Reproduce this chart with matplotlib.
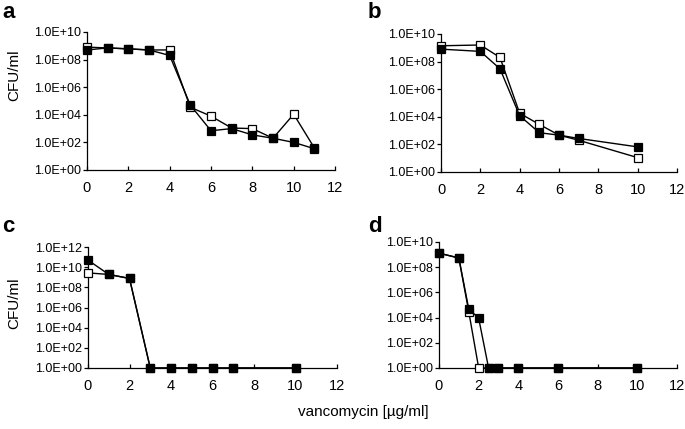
import numpy as np
import matplotlib
matplotlib.use('Agg')
import matplotlib.pyplot as plt
from matplotlib.ticker import FixedLocator, FuncFormatter

plt.rcParams['font.family'] = ['Liberation Sans', 'DejaVu Sans']

# panel a
a_x = [0, 1, 2, 3, 4, 5, 6, 7, 8, 9, 10, 11]
a_open = [8e8, 7e8, 6e8, 5e8, 5e8, 3.5e4, 8e3, 1.1e3, 1e3, 2e2, 1.1e4, 40]
a_fill = [5e8, 7e8, 6e8, 5e8, 2e8, 5e4, 7e2, 1e3, 3.5e2, 2e2, 1e2, 35]

# panel b
b_x = [0, 2, 3, 4, 5, 6, 7, 10]
b_open = [1.4e9, 1.6e9, 2e8, 1.8e4, 2.8e3, 4.7e2, 2e2, 11]
b_fill = [8e8, 5.5e8, 3e7, 1.2e4, 7e2, 4.7e2, 2.7e2, 66]

# panel c
c_x = [0, 1, 2, 3, 4, 5, 6, 7, 10]
c_open = [2.7e9, 1.9e9, 7.6e8, 1, 1, 1, 1, 1, 1]
c_fill = [5e10, 1.9e9, 7.6e8, 1, 1, 1, 1, 1, 1]

# panel d
d_x = [0, 1, 1.5, 2, 2.5, 3, 4, 6, 10]
d_open = [1.3e9, 5.4e8, 3e4, 1, 1, 1, 1, 1, 1]
d_fill = [1.3e9, 5.4e8, 4.8e4, 9e3, 1, 1, 1, 1, 1]

x_ticks = [0, 2, 4, 6, 8, 10, 12]


def sci_fmt(v, pos):
    e = int(round(np.log10(v)))
    return '1.0E%s%02d' % ('+' if e >= 0 else '-', abs(e))


def panel(rect, x, y_open, y_fill, ymax):
    ax = fig.add_axes(rect)
    # open squares first, filled drawn on top
    ax.plot(x, y_open, '-s', color='black', mfc='white', mec='black',
            ms=5.2, lw=1, mew=0.9, clip_on=False, zorder=3)
    ax.plot(x, y_fill, '-s', color='black', mfc='black', mec='black',
            ms=5.2, lw=1, mew=0.9, clip_on=False, zorder=4)
    ax.set_yscale('log')
    ax.set_ylim(1, ymax)
    ax.set_xlim(0, 12)
    ax.yaxis.set_major_locator(FixedLocator([10.0 ** k for k in range(0, int(np.log10(ymax)) + 1, 2)]))
    ax.yaxis.set_minor_locator(FixedLocator([]))
    ax.yaxis.set_major_formatter(FuncFormatter(sci_fmt))
    ax.set_xticks(x_ticks)
    for s in ['top', 'right']:
        ax.spines[s].set_visible(False)
    for s in ['left', 'bottom']:
        ax.spines[s].set_linewidth(0.9)
    ax.tick_params(axis='y', direction='out', length=3, width=0.9, labelsize=9, pad=1.5)
    ax.tick_params(axis='x', direction='in', length=3, width=0.9, labelsize=10.5, pad=8)
    return ax


fig = plt.figure(figsize=(6.85, 4.29), dpi=100)

panel([87 / 685, 1 - 170 / 429, 248 / 685, 138 / 429], a_x, a_open, a_fill, 1e10)
panel([441 / 685, 1 - 172 / 429, 236 / 685, 138 / 429], b_x, b_open, b_fill, 1e10)
panel([88 / 685, 1 - 368 / 429, 249 / 685, 121 / 429], c_x, c_open, c_fill, 1e12)
panel([439 / 685, 1 - 368 / 429, 238 / 685, 126 / 429], d_x, d_open, d_fill, 1e10)

for lx, ly, t in [(2, 12, 'a'), (368, 12, 'b'), (2, 226, 'c'), (368, 226, 'd')]:
    fig.text(lx / 685, 1 - ly / 429, t, fontsize=16, fontweight='bold', va='center', ha='left')

fig.text(14 / 685, 1 - 75 / 429, 'CFU/ml', rotation=90, fontsize=11, va='center', ha='center')
fig.text(14 / 685, 1 - 303 / 429, 'CFU/ml', rotation=90, fontsize=11, va='center', ha='center')
fig.text(363 / 685, 1 - 412 / 429, 'vancomycin [µg/ml]', fontsize=11, va='center', ha='center')

fig.savefig('out.png', dpi=100)
